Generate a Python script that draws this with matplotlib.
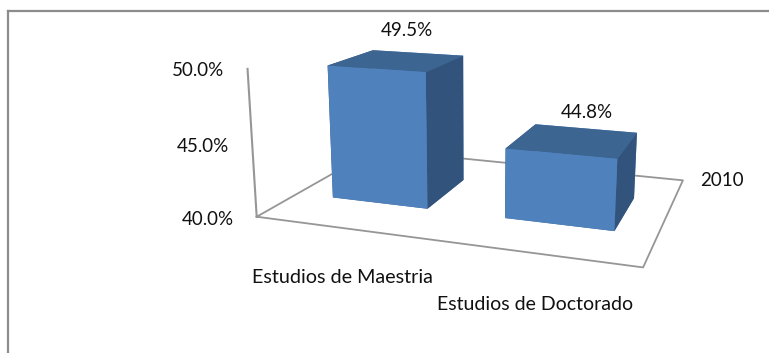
import matplotlib
matplotlib.use("Agg")
import matplotlib.pyplot as plt
from matplotlib.lines import Line2D

categories = ["Estudios de Maestria", "Estudios de Doctorado"]
values = [49.5, 44.8]
value_labels = ["49.5%", "44.8%"]
z_ticks = [40.0, 45.0, 50.0]
series_name = "2010"

W, H = 769, 353
FRONT = "#4f81bd"
TOP = "#3d6592"
SIDE = "#32547c"
GRID = "#969696"

plt.rcParams["font.family"] = ["Lato", "DejaVu Sans"]


# place text using pixels counted from the top left corner
def label(x, y, s, ha="center", size=13.5):
    fig.text(x / W, 1 - (y + 1.5) / H, s, ha=ha, va="center", fontsize=size, color="#111111")


fig = plt.figure(figsize=(W / 100, H / 100), dpi=100)
side = 457.5
ax = fig.add_axes([248.5 / W, -11.2 / H, side / W, side / H], projection="3d")
ax.set_axis_off()
ax.patch.set_visible(False)
ax.computed_zorder = False
ax.set_xlim(0, 2, view_margin=0)
ax.set_ylim(0, 1, view_margin=0)
ax.set_zlim(z_ticks[0], z_ticks[-1], view_margin=0)
ax.view_init(14.08, -70.77, -0.142)
ax.set_proj_type("persp", focal_length=0.3663)
ax.set_box_aspect((3.3052, 2.2945, 1.2829))

# floor outline and the value axis
floor_x = [0, 2, 2, 0, 0]
floor_y = [0, 0, 1, 1, 0]
ax.plot(floor_x, floor_y, [z_ticks[0]] * 5, color=GRID, lw=1.3, zorder=1)
ax.plot([0, 0], [0, 0], [z_ticks[0], z_ticks[-1]], color=GRID, lw=1.5, zorder=1, clip_on=False)

# one box per category, faces are -z, +z, -y, +y, -x, +x
bar_x = [0.219, 1.217]
bar_dx = [0.565, 0.571]
bar_y = 0.298
bar_dy = 0.394
face_colors = [TOP, TOP, FRONT, FRONT, SIDE, SIDE]
for i in range(len(values)):
    ax.bar3d(bar_x[i], bar_y, z_ticks[0], bar_dx[i], bar_dy, values[i] - z_ticks[0],
             color=face_colors, edgecolor=None, linewidth=0, shade=False, zorder=2 + i)

# chart frame, only the top and left edges show
fig.add_artist(Line2D([8 / W, 8 / W], [0, 1 - 11 / H], color="#8c8c8c", lw=1.6))
fig.add_artist(Line2D([8 / W, 1], [1 - 11 / H, 1 - 11 / H], color="#8c8c8c", lw=1.6))

label(407, 28.5, value_labels[0])
label(587, 111.5, value_labels[1])
label(721.5, 179.5, series_name)
label(224, 69.5, f"{z_ticks[2]:.1f}%", ha="right")
label(229, 145.5, f"{z_ticks[1]:.1f}%", ha="right")
label(234, 218, f"{z_ticks[0]:.1f}%", ha="right")
label(342.5, 276, categories[0], size=14.2)
label(535, 302.5, categories[1], size=14.0)

fig.savefig("out.png", dpi=100)
